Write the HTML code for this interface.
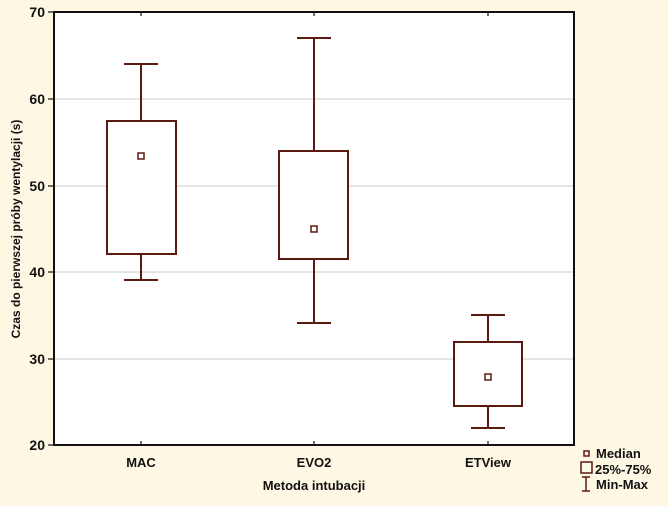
<!DOCTYPE html><html><head><style>body{margin:0;background:#fdf7e3}</style></head><body>
<svg width="668" height="501" xmlns="http://www.w3.org/2000/svg" font-family="Liberation Sans, sans-serif" font-weight="bold">
<rect width="668" height="501" fill="#fdf7e3"/>
<rect x="54" y="12" width="520" height="433" fill="#fff"/>
<g stroke="#c8c8c8" stroke-width="1">
<line x1="54" y1="99" x2="574" y2="99"/><line x1="54" y1="186" x2="574" y2="186"/>
<line x1="54" y1="272" x2="574" y2="272"/><line x1="54" y1="359" x2="574" y2="359"/></g>
<rect x="54" y="12" width="520" height="433" fill="none" stroke="#111" stroke-width="2"/>
<g stroke="#111" stroke-width="1.2">
<line x1="141" y1="12" x2="141" y2="16"/><line x1="314" y1="12" x2="314" y2="16"/><line x1="488" y1="12" x2="488" y2="16"/>
<line x1="141" y1="445" x2="141" y2="441"/><line x1="314" y1="445" x2="314" y2="441"/><line x1="488" y1="445" x2="488" y2="441"/>
<line x1="48" y1="12" x2="54" y2="12"/><line x1="48" y1="99" x2="54" y2="99"/><line x1="48" y1="186" x2="54" y2="186"/><line x1="48" y1="272" x2="54" y2="272"/><line x1="48" y1="359" x2="54" y2="359"/><line x1="48" y1="445" x2="54" y2="445"/></g>
<g stroke="#5a1a10" stroke-width="2" fill="#fff">
<line x1="141" y1="64" x2="141" y2="280"/><line x1="124" y1="64" x2="158" y2="64"/><line x1="124" y1="280" x2="158" y2="280"/>
<rect x="107" y="121" width="69" height="133"/><rect x="138" y="153" width="6" height="6" stroke-width="1.5"/>
<line x1="314" y1="38" x2="314" y2="323"/><line x1="297" y1="38" x2="331" y2="38"/><line x1="297" y1="323" x2="331" y2="323"/>
<rect x="279" y="151" width="69" height="108"/><rect x="311" y="226" width="6" height="6" stroke-width="1.5"/>
<line x1="488" y1="315" x2="488" y2="428"/><line x1="471" y1="315" x2="505" y2="315"/><line x1="471" y1="428" x2="505" y2="428"/>
<rect x="454" y="342" width="68" height="64"/><rect x="485" y="374" width="6" height="6" stroke-width="1.5"/>
</g>
<g font-size="14" text-anchor="end" fill="#111">
<text x="45" y="17">70</text><text x="45" y="104">60</text><text x="45" y="191">50</text><text x="45" y="277">40</text><text x="45" y="364">30</text><text x="45" y="450">20</text></g>
<g font-size="13" text-anchor="middle" fill="#111">
<text x="141" y="467">MAC</text><text x="314" y="467">EVO2</text><text x="488" y="467">ETView</text>
<text x="314" y="490">Metoda intubacji</text>
<text transform="translate(20,229) rotate(-90)" font-size="12">Czas do pierwszej próby wentylacji (s)</text></g>
<g stroke="#5a1a10" stroke-width="1.5" fill="none">
<rect x="584" y="451" width="5" height="5"/><rect x="581" y="462" width="11" height="11"/>
<line x1="586" y1="477" x2="586" y2="491"/><line x1="582" y1="477" x2="590" y2="477"/><line x1="582" y1="491" x2="590" y2="491"/></g>
<g font-size="13" fill="#111"><text x="596" y="458">Median</text><text x="595" y="474">25%-75%</text><text x="596" y="489">Min-Max</text></g>
</svg></body></html>
